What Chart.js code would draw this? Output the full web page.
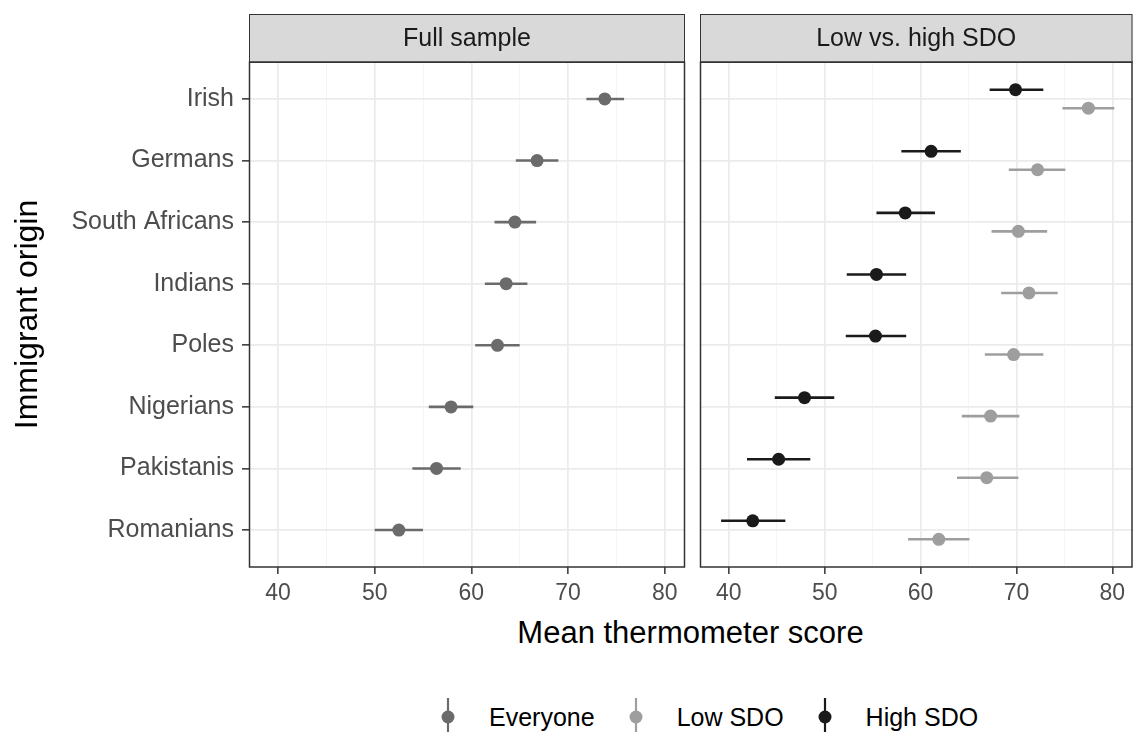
<!DOCTYPE html>
<html>
<head>
<meta charset="utf-8">
<script src="https://cdn.jsdelivr.net/npm/chart.js@4.4.1/dist/chart.umd.min.js"></script>
<style>
  body { margin: 0; background: #fff; width: 1133px; height: 732px; position: relative; overflow: hidden;
         font-family: Arial, "Liberation Sans", sans-serif; }
  canvas { position: absolute; top: 0; }
  #xtitle { position: absolute; left: 249px; width: 883px; top: 617px; text-align: center;
            font-size: 31px; line-height: 31px; color: #000; }
  #legend { position: absolute; left: 441px; top: 696px; height: 42px; display: flex; align-items: center; }
  .item { display: flex; align-items: center; margin-right: 34px; }
  .item svg { margin-right: 34px; }
  .item span { font-size: 25px; line-height: 25px; color: #000; }
</style>
</head>
<body>
<canvas id="left" width="692" height="615" style="left:0"></canvas>
<canvas id="right" width="447" height="615" style="left:692px"></canvas>
<div id="xtitle">Mean thermometer score</div>
<div id="legend"></div>
<script>
const categories = ['Irish', 'Germans', 'South Africans', 'Indians', 'Poles', 'Nigerians', 'Pakistanis', 'Romanians'];

// full sample
const everyoneMean = [73.8, 66.8, 64.5, 63.6, 62.7, 57.9, 56.4, 52.5];
const everyoneLow  = [71.9, 64.6, 62.4, 61.4, 60.4, 55.6, 53.9, 50.0];
const everyoneHigh = [75.8, 69.0, 66.7, 65.8, 65.0, 60.2, 58.9, 55.0];

// low SDO
const lowSdoMean = [77.5, 72.2, 70.2, 71.3, 69.7, 67.3, 66.9, 61.9];
const lowSdoLow  = [74.8, 69.2, 67.4, 68.4, 66.7, 64.3, 63.8, 58.7];
const lowSdoHigh = [80.2, 75.1, 73.2, 74.3, 72.8, 70.3, 70.2, 65.1];

// high SDO
const highSdoMean = [69.9, 61.1, 58.4, 55.4, 55.3, 47.9, 45.2, 42.5];
const highSdoLow  = [67.2, 58.0, 55.4, 52.3, 52.2, 44.8, 41.9, 39.2];
const highSdoHigh = [72.8, 64.2, 61.5, 58.5, 58.5, 51.0, 48.5, 45.9];

const xTicks = [40, 50, 60, 70, 80];
const dodge = 0.15;

const colEveryone = '#6b6b6b';
const colLow = '#9e9e9e';
const colHigh = '#1a1a1a';

Chart.defaults.font.family = 'Arial, "Liberation Sans", sans-serif';

function points(mean, lo, hi, shift) {
  return categories.map((c, i) => ({ x: mean[i], y: i + shift, xMin: lo[i], xMax: hi[i] }));
}

function series(label, color, data) {
  return { label: label, data: data, backgroundColor: color, borderColor: color,
           pointRadius: 6.5, pointHoverRadius: 6.5, borderWidth: 0 };
}

// error bars, facet strip and panel border
const panelDecor = {
  id: 'panelDecor',
  beforeDatasetsDraw(chart) {
    const ctx = chart.ctx, xs = chart.scales.x, ys = chart.scales.y;
    ctx.save();
    ctx.lineWidth = 2.6;
    chart.data.datasets.forEach(ds => {
      ctx.strokeStyle = ds.borderColor;
      ds.data.forEach(d => {
        const y = ys.getPixelForValue(d.y);
        ctx.beginPath();
        ctx.moveTo(xs.getPixelForValue(d.xMin), y);
        ctx.lineTo(xs.getPixelForValue(d.xMax), y);
        ctx.stroke();
      });
    });
    ctx.restore();
  },
  afterDraw(chart, args, opts) {
    const ctx = chart.ctx, a = chart.chartArea;
    ctx.save();
    ctx.fillStyle = '#d9d9d9';
    ctx.fillRect(a.left, 14, a.right - a.left, a.top - 14);
    ctx.strokeStyle = '#333333';
    ctx.lineWidth = 1;
    ctx.strokeRect(a.left + 0.5, 14.5, a.right - a.left - 1, a.top - 14);
    ctx.fillStyle = '#1a1a1a';
    ctx.font = '25px Arial, "Liberation Sans", sans-serif';
    ctx.textAlign = 'center';
    ctx.textBaseline = 'middle';
    ctx.fillText(opts.label, (a.left + a.right) / 2, (14 + a.top) / 2 + 1);
    ctx.lineWidth = 1.5;
    ctx.strokeRect(a.left + 0.5, a.top, a.right - a.left - 1, a.bottom - a.top);
    ctx.restore();
  }
};

function makeChart(id, label, datasets, showY, padRight, yWidth) {
  return new Chart(document.getElementById(id), {
    type: 'scatter',
    data: { datasets: datasets },
    plugins: [panelDecor],
    options: {
      responsive: false,
      animation: false,
      devicePixelRatio: 1,
      layout: { padding: { top: 62, right: padRight, left: 0, bottom: 0 } },
      plugins: {
        legend: { display: false },
        tooltip: { enabled: false },
        panelDecor: { label: label }
      },
      scales: {
        x: {
          type: 'linear', min: 37.0, max: 82.1,
          border: { display: false },
          afterFit: s => { s.height = 48; s.paddingLeft = 0; s.paddingRight = 0; },
          ticks: {
            stepSize: 5, includeBounds: false, autoSkip: false, maxRotation: 0,
            color: '#4d4d4d', font: { size: 23 }, padding: 6,
            callback: v => xTicks.includes(v) ? String(v) : ''
          },
          grid: {
            tickLength: 7,
            color: c => (c.tick && c.tick.value % 10 === 0) ? '#ebebeb' : '#f4f4f4',
            lineWidth: c => (c.tick && c.tick.value % 10 === 0) ? 1.7 : 0.9,
            tickColor: c => (c.tick && c.tick.value % 10 === 0) ? '#333333' : 'rgba(0,0,0,0)',
            tickWidth: 1.5
          }
        },
        y: {
          type: 'linear', min: -0.6, max: 7.6, reverse: true,
          border: { display: false },
          afterFit: s => { s.width = yWidth; s.paddingTop = 0; s.paddingBottom = 0; },
          title: {
            display: showY, text: 'Immigrant origin', color: '#000',
            font: { size: 32 }, padding: { top: 9, bottom: 0 }
          },
          ticks: {
            display: showY, stepSize: 1, includeBounds: false, autoSkip: false,
            color: '#4d4d4d', font: { size: 25 }, padding: 8,
            callback: v => categories[v] !== undefined ? categories[v] : ''
          },
          grid: {
            color: '#ebebeb', lineWidth: 1.7,
            drawTicks: showY, tickLength: 7,
            tickColor: '#333333', tickWidth: 1.5
          }
        }
      }
    }
  });
}

makeChart('left', 'Full sample',
  [series('Everyone', colEveryone, points(everyoneMean, everyoneLow, everyoneHigh, 0))],
  true, 7, 249);

makeChart('right', 'Low vs. high SDO',
  [series('Low SDO', colLow, points(lowSdoMean, lowSdoLow, lowSdoHigh, dodge)),
   series('High SDO', colHigh, points(highSdoMean, highSdoLow, highSdoHigh, -dodge))],
  false, 1, 8);

// legend
const legendItems = [['Everyone', colEveryone], ['Low SDO', colLow], ['High SDO', colHigh]];
const legend = document.getElementById('legend');
legendItems.forEach(([name, color]) => {
  const item = document.createElement('div');
  item.className = 'item';
  item.innerHTML = '<svg width="14" height="42"><line x1="7" y1="2" x2="7" y2="42" stroke="' + color +
    '" stroke-width="2.2"/><circle cx="7" cy="21" r="6.5" fill="' + color + '"/></svg><span>' + name + '</span>';
  legend.appendChild(item);
});
</script>
</body>
</html>
